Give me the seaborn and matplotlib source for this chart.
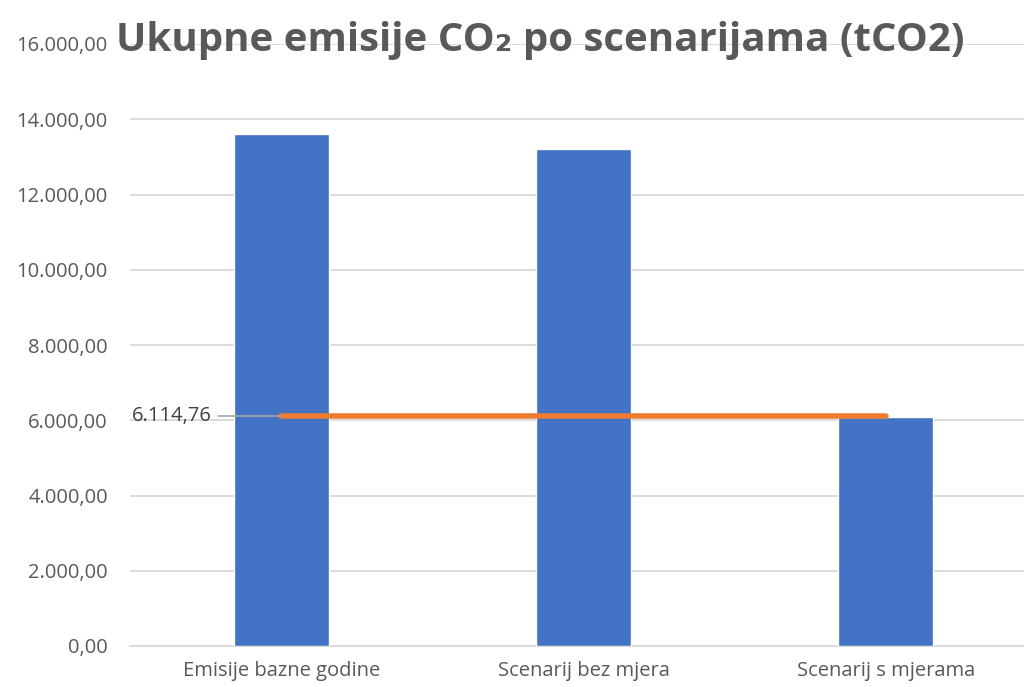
import matplotlib
matplotlib.use("Agg")
import matplotlib.pyplot as plt
import seaborn as sns
import pandas as pd

categories = ["Emisije bazne godine", "Scenarij bez mjera", "Scenarij s mjerama"]
emissions = [13600, 13200, 6090]
target_value = 6114.76
target_label = "6.114,76"
yticks = [0, 2000, 4000, 6000, 8000, 10000, 12000, 14000, 16000]
ytick_labels = ["0,00", "2.000,00", "4.000,00", "6.000,00", "8.000,00",
                "10.000,00", "12.000,00", "14.000,00", "16.000,00"]
title = "Ukupne emisije CO₂ po scenarijama (tCO2)"

sns.set_theme(style="white")
plt.rcParams['font.family'] = ['Open Sans', 'DejaVu Sans']

df = pd.DataFrame({"cat": categories, "val": emissions})

W, H = 1024, 687
fig = plt.figure(figsize=(W/100, H/100), dpi=100)
ax = fig.add_axes([130/W, (H-646)/H, (1037-130)/W, 602/H])

sns.barplot(data=df, x="cat", y="val", color="#4472C4", saturation=1,
            width=0.315, ax=ax, zorder=3)
ax.plot([0, 2], [target_value, target_value], color="#ED7D31", lw=4,
        solid_capstyle="round", zorder=4)
# leader line for label
ax.plot([-0.208, 0], [target_value, target_value], color="#A6A6A6", lw=1.2, zorder=4)
ax.text(-0.23, target_value, target_label, ha="right", va="center",
        fontsize=14.5, color="#404040")

ax.set_xlim(-0.5, 2.5)
ax.set_ylim(0, 16000)
ax.set_yticks(yticks)
ax.set_yticklabels(ytick_labels)
ax.yaxis.grid(True, color="#D9D9D9", lw=1.3, zorder=0)
ax.set_axisbelow(True)
for s in ["top", "right", "left"]:
    ax.spines[s].set_visible(False)
ax.spines["bottom"].set_color("#D9D9D9")
ax.spines["bottom"].set_linewidth(1.3)
ax.tick_params(axis="y", length=0, pad=16, labelsize=14.5, labelcolor="#595959")
ax.tick_params(axis="x", length=0, pad=11, labelsize=14.5, labelcolor="#595959")
ax.set_xlabel("")
ax.set_ylabel("")

fig.text(540/W, 1 - 41/H, title, ha="center", va="center", fontsize=29,
         fontweight="bold", color="#595959")

fig.savefig("out.png", dpi=100)
